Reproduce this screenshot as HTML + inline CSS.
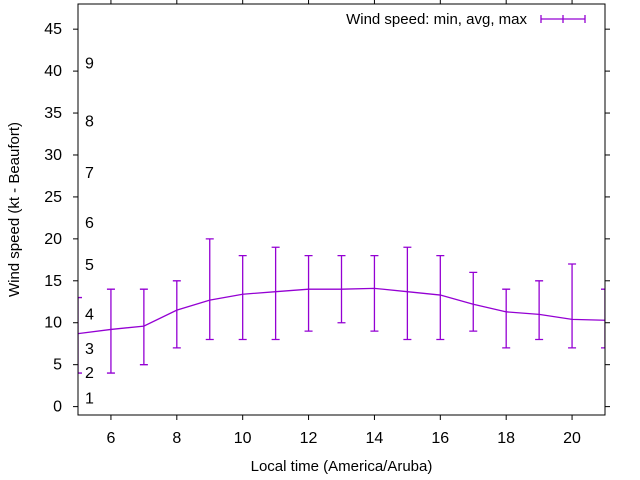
<!DOCTYPE html>
<html><head><meta charset="utf-8"><style>
body{margin:0;background:#fff}
svg{display:block;font-family:"Liberation Sans",sans-serif}
</style></head><body>
<svg id="c" width="640" height="480"></svg>
<script>
const hours=[5,6,7,8,9,10,11,12,13,14,15,16,17,18,19,20,21];
const avgVals=[8.7,9.2,9.6,11.5,12.7,13.4,13.7,14.0,14.0,14.1,13.7,13.3,12.2,11.3,11.0,10.4,10.3];
const minVals=[4,4,5,7,8,8,8,9,10,9,8,8,9,7,8,7,7];
const maxVals=[13,14,14,15,20,18,19,18,18,18,19,18,16,14,15,17,14];
const yTicks=[0,5,10,15,20,25,30,35,40,45];
const xTicks=[6,8,10,12,14,16,18,20];
const bftLabels=["1","2","3","4","5","6","7","8","9"];
const bftPos=[1.1,4.1,7.0,11.1,17.0,22.0,28.0,34.1,41.0];
const L=78,R=605,T=4,B=415,x0=5,x1=21,y0=-1,y1=48;
const X=v=>L+(v-x0)/(x1-x0)*(R-L);
const Y=v=>B-(v-y0)/(y1-y0)*(B-T);
const svg=document.getElementById('c');const NS='http://www.w3.org/2000/svg';
function mk(t,a,txt){const e=document.createElementNS(NS,t);for(const k in a)e.setAttribute(k,a[k]);if(txt!==undefined)e.textContent=txt;svg.appendChild(e);return e;}
const clip=mk('clipPath',{id:'pc'});const cr=document.createElementNS(NS,'rect');cr.setAttribute('x',L);cr.setAttribute('y',T);cr.setAttribute('width',R-L);cr.setAttribute('height',B-T);clip.appendChild(cr);
yTicks.forEach(v=>{
let t=mk('line',{x1:L-5,x2:L,y1:Y(v),y2:Y(v),stroke:'#000'});


t=mk('line',{x1:R,x2:R+5,y1:Y(v),y2:Y(v),stroke:'#000'});


const l=mk('text',{x:L-16,y:Y(v)+5,'text-anchor':'end','font-size':'16'},v);


});
xTicks.forEach(v=>{
let t=mk('line',{x1:X(v),x2:X(v),y1:B,y2:B+5,stroke:'#000'});


t=mk('line',{x1:X(v),x2:X(v),y1:T-4,y2:T,stroke:'#000'});


const l=mk('text',{x:X(v),y:B+28,'text-anchor':'middle','font-size':'16'},v);


});
bftLabels.forEach((s,i)=>{
const l=mk('text',{x:85,y:Y(bftPos[i])+6,'font-size':'16'},s);


});
const g=mk('g',{'clip-path':'url(#pc)',stroke:'#9400d3','stroke-width':'1.3',fill:'none'});


function add(par,t,a){const e=document.createElementNS(NS,t);for(const k in a)e.setAttribute(k,a[k]);par.appendChild(e);return e;}
const ln=add(g,'polyline',{points:hours.map((h,i)=>X(h)+','+Y(avgVals[i])).join(' ')});


hours.forEach((h,i)=>{
const x=X(h);
const e=add(g,'path',{d:`M${x},${Y(minVals[i])}V${Y(maxVals[i])}M${x-4},${Y(minVals[i])}h8M${x-4},${Y(maxVals[i])}h8`});


});
const f=mk('rect',{x:L,y:T,width:R-L,height:B-T,fill:'none',stroke:'#000'});


let t=mk('text',{x:(L+R)/2,y:471,'text-anchor':'middle','font-size':'15'},'Local time (America/Aruba)');


t=mk('text',{x:0,y:0,'text-anchor':'middle','font-size':'15',transform:`translate(19,${(T+B)/2}) rotate(-90)`},'Wind speed (kt - Beaufort)');


t=mk('text',{x:527,y:24,'text-anchor':'end','font-size':'15'},'Wind speed: min, avg, max');


t=mk('path',{d:'M541,19h44M541,15v8M585,15v8M563,15v8',stroke:'#9400d3','stroke-width':'1.3',fill:'none'});


</script>
</body></html>
